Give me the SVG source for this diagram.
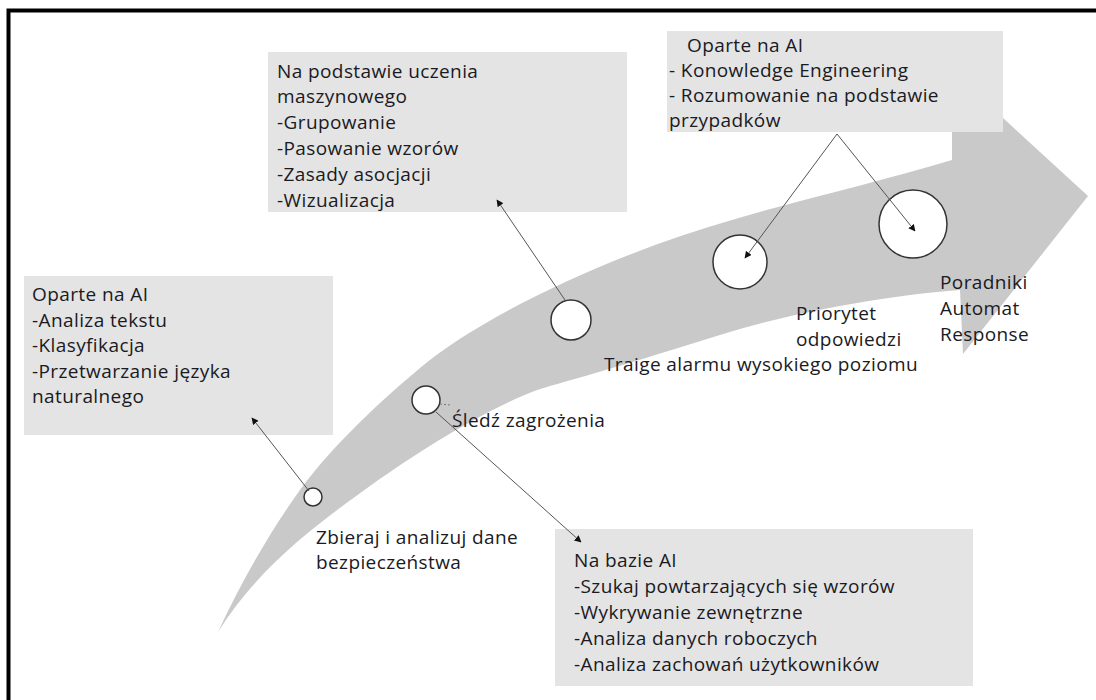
<svg xmlns="http://www.w3.org/2000/svg" width="1096" height="700" viewBox="0 0 1096 700">
<defs>
<marker id="ah" viewBox="0 0 10 10" refX="9" refY="5" markerWidth="7" markerHeight="7" orient="auto" markerUnits="userSpaceOnUse">
<path d="M0,0 L10,5 L0,10 z" fill="#111"/>
</marker>
<style>
.t{font-family:"Open Sans","Liberation Sans",sans-serif;font-size:19px;letter-spacing:0.4px;fill:#1a1a22}
.box{fill:#e4e4e4}
.c{fill:#fff;stroke:#333;stroke-width:1.5}
.ln{stroke:#555;stroke-width:1;fill:none;marker-end:url(#ah)}
</style>
</defs>
<rect width="1096" height="700" fill="#fff"/>
<path d="M8.5,700 V10.5 H1096" fill="none" stroke="#000" stroke-width="4"/>
<path id="band" fill="#c9c9c9" d="M218,632 C240,585 265,540 295,497 S370,410 420,368 S560,280 655,245 S860,188 952,160 L952,118 L1003,118 L1088,196 L963,354 L960,290 C900,294 800,310 720,335 S600,372 550,386 S420,450 370,486 S260,565 218,632 Z"/>
<g id="boxA">
<rect class="box" x="268" y="52" width="359" height="160"/>
<text class="t" x="277" y="78">Na podstawie uczenia</text>
<text class="t" x="277" y="103">maszynowego</text>
<text class="t" x="277" y="129">-Grupowanie</text>
<text class="t" x="277" y="155">-Pasowanie wzorów</text>
<text class="t" x="277" y="181">-Zasady asocjacji</text>
<text class="t" x="277" y="207">-Wizualizacja</text>
</g>
<g id="boxB">
<rect class="box" x="667" y="31" width="336" height="101"/>
<text class="t" x="687" y="52">Oparte na AI</text>
<text class="t" x="669" y="77">- Konowledge Engineering</text>
<text class="t" x="669" y="102">- Rozumowanie na podstawie</text>
<text class="t" x="669" y="127">przypadków</text>
</g>
<g id="boxC">
<rect class="box" x="24" y="276" width="309" height="159"/>
<text class="t" x="32" y="301">Oparte na AI</text>
<text class="t" x="32" y="327">-Analiza tekstu</text>
<text class="t" x="32" y="352">-Klasyfikacja</text>
<text class="t" x="32" y="378">-Przetwarzanie języka</text>
<text class="t" x="32" y="403">naturalnego</text>
</g>
<g id="boxD">
<rect class="box" x="555" y="529" width="418" height="157"/>
<text class="t" x="574" y="567">Na bazie AI</text>
<text class="t" x="574" y="593">-Szukaj powtarzających się wzorów</text>
<text class="t" x="574" y="619">-Wykrywanie zewnętrzne</text>
<text class="t" x="574" y="645">-Analiza danych roboczych</text>
<text class="t" x="574" y="671">-Analiza zachowań użytkowników</text>
</g>
<g id="n1"><circle class="c" cx="313" cy="497" r="9"/>
<text class="t" x="316" y="544">Zbieraj i analizuj dane</text>
<text class="t" x="316" y="569">bezpieczeństwa</text></g>
<g id="n2"><circle class="c" cx="426" cy="400" r="14"/>
<text class="t" x="452" y="427">Śledź zagrożenia</text></g>
<g id="n3"><circle class="c" cx="571" cy="320" r="20"/>
<text class="t" x="604" y="371">Traige alarmu wysokiego poziomu</text></g>
<g id="n4"><circle class="c" cx="740" cy="262" r="27"/>
<text class="t" x="796" y="320">Priorytet</text>
<text class="t" x="796" y="346">odpowiedzi</text></g>
<g id="n5"><circle class="c" cx="913" cy="224" r="34"/>
<text class="t" x="940" y="289">Poradniki</text>
<text class="t" x="940" y="315">Automat</text>
<text class="t" x="940" y="341">Response</text></g>
<g id="connectors">
<line class="ln" x1="309" y1="491" x2="252" y2="418"/>
<line class="ln" x1="436" y1="412" x2="581" y2="542"/>
<line class="ln" x1="565" y1="300" x2="497" y2="200"/>
<line class="ln" x1="837" y1="134" x2="745" y2="258"/>
<line class="ln" x1="837" y1="134" x2="915" y2="231"/>
<line x1="440" y1="404" x2="450" y2="405" stroke="#777" stroke-width="1" stroke-dasharray="2,2"/>
</g>
</svg>
